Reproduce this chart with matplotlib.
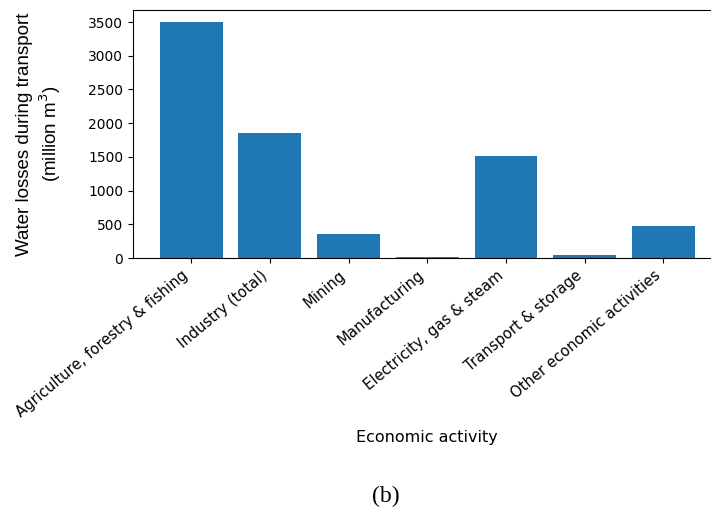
import matplotlib
matplotlib.use('Agg')
import matplotlib.pyplot as plt

# 数据
activities = ['Agriculture, forestry & fishing', 'Industry (total)', 'Mining',
              'Manufacturing', 'Electricity, gas & steam', 'Transport & storage',
              'Other economic activities']
losses = [3500, 1860, 355, 20, 1510, 38, 473]

fig = plt.figure(figsize=(7.11, 5.12), dpi=100)
# axes runs a little past the right edge, like the cropped original
ax = fig.add_axes([0.187, 0.496, 0.828, 0.484])

ax.bar(activities, losses, color='#1f77b4', width=0.8)
ax.set_yticks([0, 500, 1000, 1500, 2000, 2500, 3000, 3500])
ax.tick_params(labelsize=10)
plt.setp(ax.get_xticklabels(), rotation=40, ha='right', fontsize=10.6)

ax.set_xlabel('Economic activity', fontsize=11.5, labelpad=7)
ax.set_ylabel('Water losses during transport\n(million m$^3$)',
              fontsize=13.5, family='Liberation Sans', multialignment='center',
              linespacing=1.25)
ax.yaxis.set_label_coords(-0.118, 0.5)

fig.text(386 / 711, 1 - 496 / 512, '(b)', family='Liberation Serif',
         fontsize=17, ha='center', va='center')

plt.savefig('out.png', dpi=100)
